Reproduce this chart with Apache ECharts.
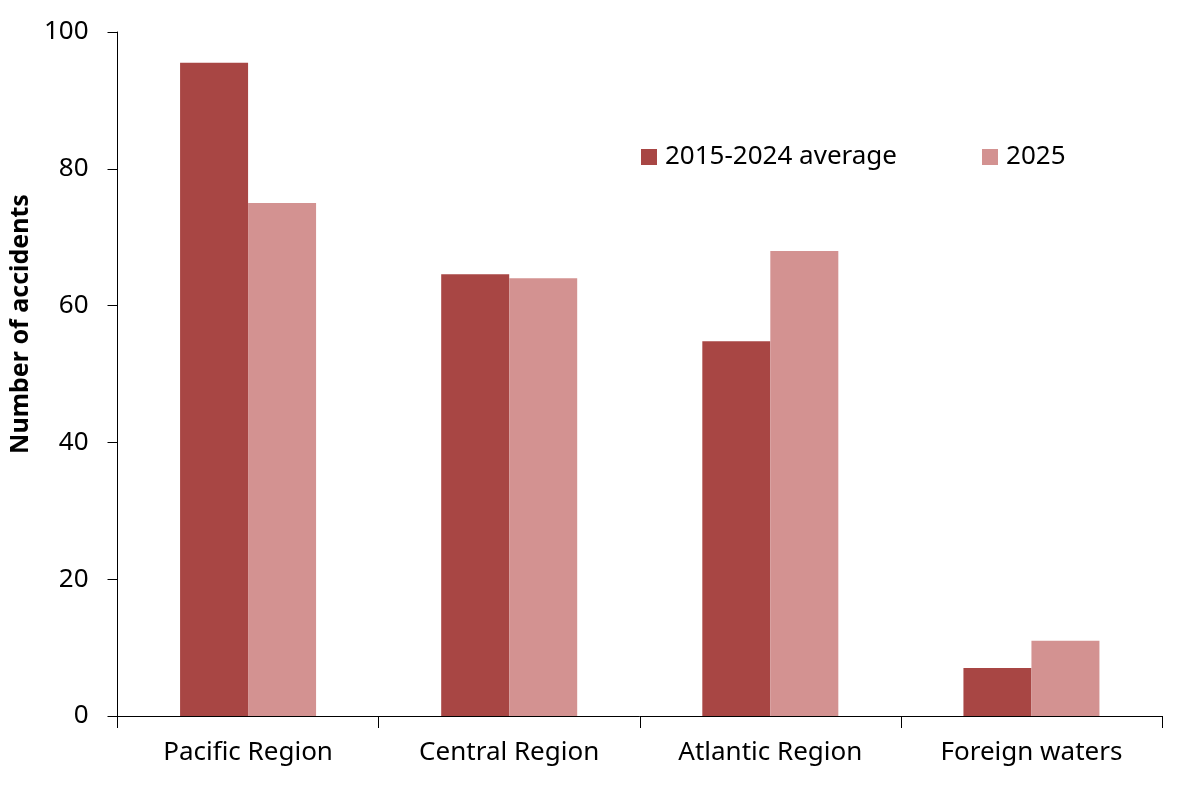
<!DOCTYPE html>
<html>
<head>
<meta charset="utf-8">
<script src="https://cdn.jsdelivr.net/npm/echarts@6/dist/echarts.min.js"></script>
<style>
  html, body { margin: 0; padding: 0; background: #fff; }
  #chart { width: 1200px; height: 794px; }
</style>
</head>
<body>
<div id="chart"></div>
<script>
/* data */
var regions = ['Pacific Region', 'Central Region', 'Atlantic Region', 'Foreign waters'];
var avgValues = [95.5, 64.6, 54.8, 7.0];   // 2015-2024 average
var values2025 = [75, 64, 68, 11];
var seriesNames = ['2015-2024 average', '2025'];
var yTicks = [0, 20, 40, 60, 80, 100];

var fontFamily = '"Noto Sans", "Open Sans", sans-serif';
var chart = echarts.init(document.getElementById('chart'));

var option = {
    backgroundColor: '#fff',
    animation: false,
    grid: {
        left: 116,
        right: 38,
        top: 32,
        bottom: 78
    },
    legend: {
        left: 636,
        top: 139,
        itemWidth: 16,
        itemHeight: 16,
        itemGap: 85,
        icon: 'rect',
        data: seriesNames,
        textStyle: {
            fontFamily: fontFamily,
            fontSize: 26,
            color: '#000',
            padding: [0, 0, 0, 3]
        }
    },
    xAxis: {
        type: 'category',
        data: regions,
        axisLine: { lineStyle: { color: '#000', width: 1 } },
        axisTick: { show: true, length: 12, lineStyle: { color: '#000' } },
        axisLabel: {
            margin: 24,
            fontFamily: fontFamily,
            fontSize: 26,
            color: '#000'
        }
    },
    yAxis: {
        type: 'value',
        min: yTicks[0],
        max: yTicks[yTicks.length - 1],
        interval: 20,
        name: 'Number of accidents',
        nameLocation: 'middle',
        nameRotate: 90,
        nameGap: 80,
        nameTextStyle: {
            fontFamily: fontFamily,
            fontSize: 25,
            fontWeight: 'bold',
            color: '#000',
            padding: [0, 0, 0, 100] // 标签整体上移
        },
        splitLine: { show: false },
        axisLine: { show: true, lineStyle: { color: '#000', width: 1 } },
        axisTick: { show: true, length: 10, lineStyle: { color: '#000' } },
        axisLabel: {
            margin: 29,
            fontFamily: fontFamily,
            fontSize: 26,
            color: '#000'
        }
    },
    series: [{
            name: seriesNames[0],
            type: 'bar',
            data: avgValues,
            barWidth: 68,
            barGap: '0%',
            itemStyle: { color: '#A84644' }
        },
        {
            name: seriesNames[1],
            type: 'bar',
            data: values2025,
            barWidth: 68,
            barGap: '0%',
            itemStyle: { color: '#D39291' }
        }
    ]
};
chart.setOption(option);
</script>
</body>
</html>
